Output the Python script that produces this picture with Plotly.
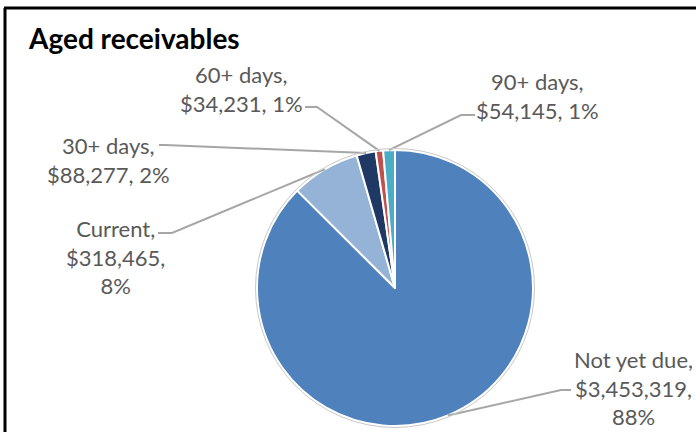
import math
import plotly.graph_objects as go

# ---- data ----
labels = ["Not yet due", "Current", "30+ days", "60+ days", "90+ days"]
values = [3453319, 318465, 88277, 34231, 54145]
percent_labels = ["88%", "8%", "2%", "1%", "1%"]
colors = ["#4F81BD", "#95B3D7", "#1F3864", "#C0504D", "#4BACC6"]
title = "Aged receivables"

# ---- layout helpers ----
W, H = 696, 432
CX, CY, R = 395, 288, 138


def px(x):
    return x / W


def py(y):
    return 1 - y / H


# label layout: text centre, number of lines, stub start, knee
label_layout = [
    dict(cx=633, cy=388, lines=3, start=(571, 390), knee=(561, 390)),
    dict(cx=115, cy=257, lines=3, start=(158, 233), knee=(172, 233)),
    dict(cx=108, cy=160, lines=2, start=(159, 145), knee=(165, 145)),
    dict(cx=241, cy=89, lines=2, start=(305, 107), knee=(317, 107)),
    dict(cx=537, cy=96, lines=2, start=(475, 115), knee=(461, 115)),
]

fig = go.Figure(
    go.Pie(
        labels=labels,
        values=values,
        sort=False,
        direction="clockwise",
        rotation=0,
        marker=dict(colors=colors, line=dict(color="white", width=2)),
        textinfo="none",
        hoverinfo="label+value+percent",
        domain=dict(x=[px(CX - R), px(CX + R)], y=[py(CY + R), py(CY - R)]),
        showlegend=False,
    )
)

total = sum(values)
cum = 0
annotations = []
shapes = []
label_font = dict(family="Lato, Carlito, sans-serif", size=22, color="#595959")
for lab, v, pct, lay in zip(labels, values, percent_labels, label_layout):
    theta = math.radians(360 * (cum + v / 2) / total)
    cum += v
    ex = CX + R * math.sin(theta)
    ey = CY - R * math.cos(theta)
    money = f"${v:,}"
    if lay["lines"] == 3:
        txt = f"{lab},<br>{money},<br>{pct}"
    else:
        txt = f"{lab},<br>{money}, {pct}"
    annotations.append(
        dict(
            x=px(lay["cx"]), y=py(lay["cy"]), xref="paper", yref="paper",
            text=txt, showarrow=False, xanchor="center", yanchor="middle",
            align="center", font=label_font,
        )
    )
    sx, sy = lay["start"]
    kx, ky = lay["knee"]
    path = (f"M {px(sx)} {py(sy)} L {px(kx)} {py(ky)} L {px(ex)} {py(ey)}")
    shapes.append(
        dict(type="path", xref="paper", yref="paper", path=path,
             line=dict(color="#A6A6A6", width=2))
    )

# thin grey outline around the pie
shapes.append(
    dict(type="circle", xref="paper", yref="paper",
         x0=px(CX - R - 1.5), x1=px(CX + R + 1.5),
         y0=py(CY + R + 1.5), y1=py(CY - R - 1.5),
         line=dict(color="#C8C8C8", width=1), layer="above")
)
# chart frame (top and left edges visible)
shapes.append(dict(type="line", xref="paper", yref="paper",
                   x0=px(4), x1=1, y0=py(8), y1=py(8),
                   line=dict(color="black", width=3)))
shapes.append(dict(type="line", xref="paper", yref="paper",
                   x0=px(5), x1=px(5), y0=py(8), y1=0,
                   line=dict(color="black", width=3)))

annotations.append(
    dict(x=px(26), y=py(38), xref="paper", yref="paper", text=f"<b>{title}</b>",
         showarrow=False, xanchor="left", yanchor="middle",
         font=dict(family="Lato, Carlito, sans-serif", size=28, color="black"))
)

fig.update_layout(
    width=W, height=H,
    margin=dict(l=0, r=0, t=0, b=0),
    paper_bgcolor="white", plot_bgcolor="white",
    annotations=annotations, shapes=shapes,
)

fig.write_html("out.html")
